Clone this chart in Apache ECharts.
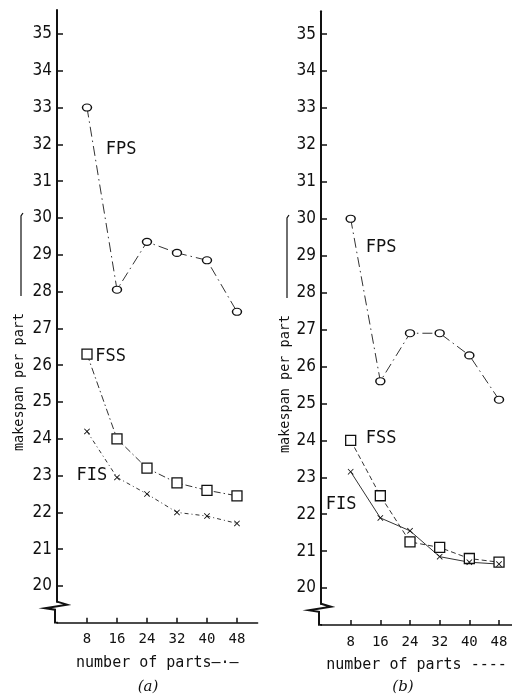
<!DOCTYPE html>
<html>
<head>
<meta charset="utf-8">
<script src="https://cdn.jsdelivr.net/npm/echarts@6/dist/echarts.min.js"></script>
<style>
  html, body { margin: 0; padding: 0; background: #fff; }
  #chart { width: 512px; height: 700px; }
</style>
</head>
<body>
<div id="chart"></div>
<script>
// number of parts on the x axis
var parts = [8, 16, 24, 32, 40, 48];
var yTicks = [20, 21, 22, 23, 24, 25, 26, 27, 28, 29, 30, 31, 32, 33, 34, 35];

// panel (a)
var fpsA = [33.0, 28.05, 29.35, 29.05, 28.85, 27.45];
var fssA = [26.3, 24.0, 23.2, 22.8, 22.6, 22.45];
var fisA = [24.2, 22.95, 22.5, 22.0, 21.9, 21.7];

// panel (b)
var fpsB = [30.0, 25.6, 26.9, 26.9, 26.3, 25.1];
var fssB = [24.0, 22.5, 21.25, 21.1, 20.8, 20.7];
var fisB = [23.15, 21.9, 21.55, 20.85, 20.7, 20.65];

var INK = '#111';
var FONT = 'DejaVu Sans Mono';
var crossPath = 'path://M0,1L1,0L5,4L9,0L10,1L6,5L10,9L9,10L5,6L1,10L0,9L4,5Z';

function pairs(ys) {
    return parts.map(function (x, i) { return [x, ys[i]]; });
}

function xAxisFor(idx, max, name) {
    return {
        type: 'value', gridIndex: idx, min: 0, max: max,
        name: name, nameLocation: 'middle', nameGap: 33,
        nameTextStyle: { fontFamily: FONT, fontSize: 15, color: INK },
        axisLine: { lineStyle: { color: INK, width: 1.5 } },
        axisTick: { inside: true, length: 5, customValues: parts, lineStyle: { color: INK, width: 1.5 } },
        axisLabel: { customValues: parts, margin: 10, fontFamily: FONT, fontSize: 14, color: INK },
        splitLine: { show: false }
    };
}

function yAxisFor(idx, max) {
    return {
        type: 'value', gridIndex: idx, min: 19, max: max,
        axisLine: { show: true, lineStyle: { color: INK, width: 2 } },
        axisTick: { show: true, inside: true, length: 6, customValues: yTicks, lineStyle: { color: INK, width: 1.5 } },
        axisLabel: { customValues: yTicks, margin: 5, fontFamily: 'DejaVu Sans Condensed', fontSize: 17, color: INK },
        splitLine: { show: false }
    };
}

function tag(text, coord) {
    return {
        symbol: 'circle', symbolSize: 0, silent: true,
        label: { show: true, position: 'inside', formatter: text, fontFamily: FONT, fontSize: 17, color: INK },
        data: [{ coord: coord }]
    };
}

function line(idx, ys, symbol, size, dash, mark) {
    return {
        type: 'line', xAxisIndex: idx, yAxisIndex: idx,
        data: pairs(ys),
        symbol: symbol, symbolSize: size,
        itemStyle: { color: symbol === crossPath ? INK : '#fff', borderColor: INK, borderWidth: symbol === crossPath ? 0 : 1.3 },
        lineStyle: { color: '#333', width: 1, type: dash },
        markPoint: mark,
        animation: false
    };
}

var chart = echarts.init(document.getElementById('chart'));
chart.setOption({
    backgroundColor: '#fff',
    animation: false,
    grid: [
        { left: 57, top: 10, width: 200.6, bottom: 77.2 },
        { left: 321, top: 11.2, width: 191, bottom: 75 }
    ],
    xAxis: [
        xAxisFor(0, 53.5, 'number of parts\u2014\u00b7\u2014'),
        xAxisFor(1, 51.5, 'number of parts ----')
    ],
    yAxis: [yAxisFor(0, 35.65), yAxisFor(1, 35.62)],
    series: [
        line(0, fpsA, 'circle', [9, 7], [10, 4, 1.5, 4], tag('FPS', [17.1, 31.85])),
        line(0, fssA, 'rect', 10, [7, 3, 1.5, 3], tag('FSS', [14.3, 26.22])),
        line(0, fisA, crossPath, 6, [4, 3, 1, 3], tag('FIS', [9.3, 22.99])),
        line(1, fpsB, 'circle', [9, 7], [10, 4, 1.5, 4], tag('FPS', [16.2, 29.23])),
        line(1, fssB, 'rect', 10, [5, 3], tag('FSS', [16.2, 24.06])),
        line(1, fisB, crossPath, 6, 'solid', tag('FIS', [5.4, 22.27]))
    ]
});

// axis breaks, y-axis titles and panel captions
var graphics = [];
[0, 1].forEach(function (g) {
    var top = chart.convertToPixel({ gridIndex: g }, [0, 19.52]);
    var bot = chart.convertToPixel({ gridIndex: g }, [0, 19]);
    var x = top[0], y = top[1];
    graphics.push({
        type: 'rect', shape: { x: x - 4, y: y - 1, width: 8, height: bot[1] - y },
        style: { fill: '#fff' }, z: 100
    });
    graphics.push({
        type: 'polyline', z: 101,
        shape: { points: [[x, y - 2], [x + 10, y + 1], [x - 12, y + 4.5], [x - 2, y + 6], [x - 2, bot[1] + 0.7]] },
        style: { stroke: INK, lineWidth: 2, fill: null }
    });
});

var yNames = [{ x: 19, y: 382 }, { x: 285, y: 384 }];
yNames.forEach(function (p) {
    graphics.push({
        type: 'text', x: p.x, y: p.y, rotation: Math.PI / 2, z: 50,
        style: { text: 'makespan per part', fontFamily: FONT, fontSize: 13.5, fill: INK, align: 'center', verticalAlign: 'middle' }
    });
    graphics.push({
        type: 'polyline', z: 50,
        shape: { points: [[p.x + 2, p.y - 86], [p.x + 2, p.y - 166], [p.x + 4, p.y - 169]] },
        style: { stroke: INK, lineWidth: 1.2, fill: null }
    });
});

graphics.push({ type: 'text', x: 148, y: 687, style: { text: '(a)', fontFamily: 'DejaVu Serif', fontStyle: 'italic', fontSize: 15, fill: INK, align: 'center', verticalAlign: 'middle' } });
graphics.push({ type: 'text', x: 403, y: 687, style: { text: '(b)', fontFamily: 'DejaVu Serif', fontStyle: 'italic', fontSize: 15, fill: INK, align: 'center', verticalAlign: 'middle' } });

chart.setOption({ graphic: graphics });
</script>
</body>
</html>
